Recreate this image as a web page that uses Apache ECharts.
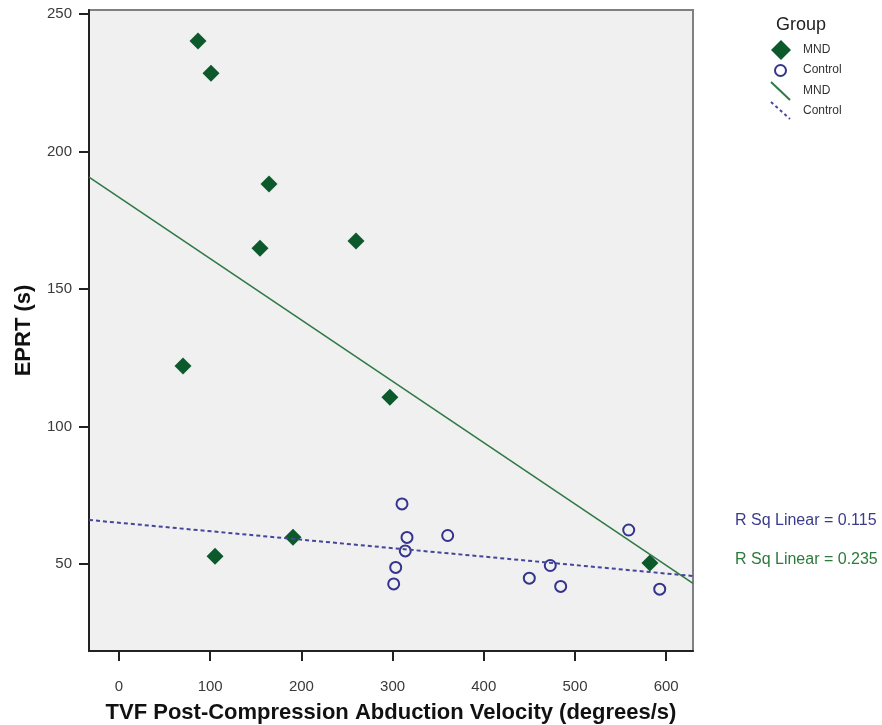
<!DOCTYPE html>
<html>
<head>
<meta charset="utf-8">
<title>EPRT vs TVF Post-Compression Abduction Velocity</title>
<script src="https://cdn.jsdelivr.net/npm/echarts@6/dist/echarts.min.js"></script>
<style>
  html, body { margin: 0; padding: 0; background: #ffffff; }
  #chart { width: 882px; height: 725px; }
</style>
</head>
<body>
<div id="chart"></div>
<script>
// MND group: abduction velocity (degrees/s) and EPRT (s)
const mndVelocity = [86.6, 100.9, 164.5, 154.6, 259.9, 70.2, 297.0, 105.3, 190.8, 582.2];
const mndEprt     = [240.2, 228.5, 188.2, 164.9, 167.5, 122.0, 110.7, 52.9, 59.8, 50.4];

// Control group
const controlVelocity = [310.3, 315.8, 313.9, 303.4, 301.2, 360.4, 449.9, 472.9, 484.3, 558.9, 592.9];
const controlEprt     = [71.9, 59.7, 54.8, 48.8, 42.8, 60.4, 44.9, 49.5, 41.9, 62.4, 40.9];

// Axis tick labels
const xTicks = [0, 100, 200, 300, 400, 500, 600];
const yTicks = [50, 100, 150, 200, 250];

// Fit statistics shown beside the plot (Control, MND)
const rSquaredLabels = ['R Sq Linear = 0.115', 'R Sq Linear = 0.235'];

const X_MIN = -32.9, X_MAX = 629.4;
const Y_MIN = 18.4, Y_MAX = 251.5;

const GREEN = '#0c5a2c';
const GREEN_LINE = '#2f7a45';
const BLUE = '#34348c';
const BLUE_LINE = '#45459c';
const FONT = 'Arial, "Liberation Sans", sans-serif';

function pairs(xs, ys) {
  return xs.map((x, i) => [x, ys[i]]);
}

// Ordinary least squares fit, evaluated across the full x range
function fitLine(xs, ys) {
  const n = xs.length;
  const mx = xs.reduce((a, b) => a + b, 0) / n;
  const my = ys.reduce((a, b) => a + b, 0) / n;
  let sxy = 0, sxx = 0;
  for (let i = 0; i < n; i++) {
    sxy += (xs[i] - mx) * (ys[i] - my);
    sxx += (xs[i] - mx) * (xs[i] - mx);
  }
  const slope = sxy / sxx;
  const intercept = my - slope * mx;
  return [[X_MIN, intercept + slope * X_MIN], [X_MAX, intercept + slope * X_MAX]];
}

const chart = echarts.init(document.getElementById('chart'), null, { renderer: 'canvas' });

const option = {
  animation: false,
  backgroundColor: '#ffffff',
  grid: {
    left: 89, right: 189, top: 10, bottom: 74,
    outerBoundsMode: 'none',
    containLabel: false,
    show: true,
    backgroundColor: '#f0f0f0',
    borderColor: '#808080',
    borderWidth: 2
  },
  xAxis: {
    type: 'value',
    min: X_MIN, max: X_MAX,
    name: 'TVF Post-Compression Abduction Velocity (degrees/s)',
    nameLocation: 'middle',
    nameGap: 51,
    nameTextStyle: { fontFamily: FONT, fontSize: 22, fontWeight: 'bold', color: '#111' },
    axisLine: { show: true, onZero: false, lineStyle: { color: '#222', width: 2 } },
    axisTick: { show: true, customValues: xTicks, length: 10, lineStyle: { color: '#222', width: 2 } },
    axisLabel: { customValues: xTicks, margin: 28, fontFamily: FONT, fontSize: 15, color: '#3a3a3a' },
    splitLine: { show: false }
  },
  yAxis: {
    type: 'value',
    min: Y_MIN, max: Y_MAX,
    name: 'EPRT (s)',
    nameLocation: 'middle',
    nameGap: 54,
    nameTextStyle: { fontFamily: FONT, fontSize: 22, fontWeight: 'bold', color: '#111' },
    axisLine: { show: true, onZero: false, lineStyle: { color: '#222', width: 2 } },
    axisTick: { show: true, customValues: yTicks, length: 10, lineStyle: { color: '#222', width: 2 } },
    axisLabel: { customValues: yTicks, margin: 17, fontFamily: FONT, fontSize: 15, color: '#3a3a3a' },
    splitLine: { show: false }
  },
  series: [
    {
      name: 'MND',
      type: 'scatter',
      symbol: 'diamond',
      symbolSize: 17,
      itemStyle: { color: GREEN, opacity: 1 },
      data: pairs(mndVelocity, mndEprt),
      z: 3
    },
    {
      name: 'Control',
      type: 'scatter',
      symbol: 'circle',
      symbolSize: 11,
      itemStyle: { color: 'rgba(0,0,0,0)', borderColor: BLUE, borderWidth: 2, opacity: 1 },
      data: pairs(controlVelocity, controlEprt),
      z: 3
    },
    {
      name: 'MND fit',
      type: 'line',
      symbol: 'none',
      lineStyle: { color: GREEN_LINE, width: 1.6 },
      data: fitLine(mndVelocity, mndEprt),
      z: 4
    },
    {
      name: 'Control fit',
      type: 'line',
      symbol: 'none',
      lineStyle: { color: BLUE_LINE, width: 2, type: [4, 3] },
      data: fitLine(controlVelocity, controlEprt),
      z: 4
    }
  ],
  graphic: [
    // Legend
    { type: 'text', left: 776, top: 16, style: { text: 'Group', fontFamily: FONT, fontSize: 18, fill: '#222' } },
    { type: 'polygon', shape: { points: [[781, 40], [791, 50], [781, 60], [771, 50]] }, style: { fill: GREEN } },
    { type: 'text', left: 803, top: 44, style: { text: 'MND', fontFamily: FONT, fontSize: 12, fill: '#333' } },
    { type: 'circle', shape: { cx: 780.5, cy: 70.5, r: 5.5 }, style: { fill: 'none', stroke: BLUE, lineWidth: 2 } },
    { type: 'text', left: 803, top: 64, style: { text: 'Control', fontFamily: FONT, fontSize: 12, fill: '#333' } },
    { type: 'line', shape: { x1: 771, y1: 82, x2: 790, y2: 100 }, style: { stroke: GREEN_LINE, lineWidth: 2 } },
    { type: 'text', left: 803, top: 85, style: { text: 'MND', fontFamily: FONT, fontSize: 12, fill: '#333' } },
    { type: 'line', shape: { x1: 771, y1: 102, x2: 790, y2: 119 }, style: { stroke: BLUE_LINE, lineWidth: 2, lineDash: [3, 3] } },
    { type: 'text', left: 803, top: 105, style: { text: 'Control', fontFamily: FONT, fontSize: 12, fill: '#333' } },
    // Fit statistics
    { type: 'text', left: 735, top: 513, style: { text: rSquaredLabels[0], fontFamily: FONT, fontSize: 16, fill: '#3b3b8e' } },
    { type: 'text', left: 735, top: 552, style: { text: rSquaredLabels[1], fontFamily: FONT, fontSize: 16, fill: '#2d7a3d' } }
  ]
};

chart.setOption(option);
</script>
</body>
</html>
